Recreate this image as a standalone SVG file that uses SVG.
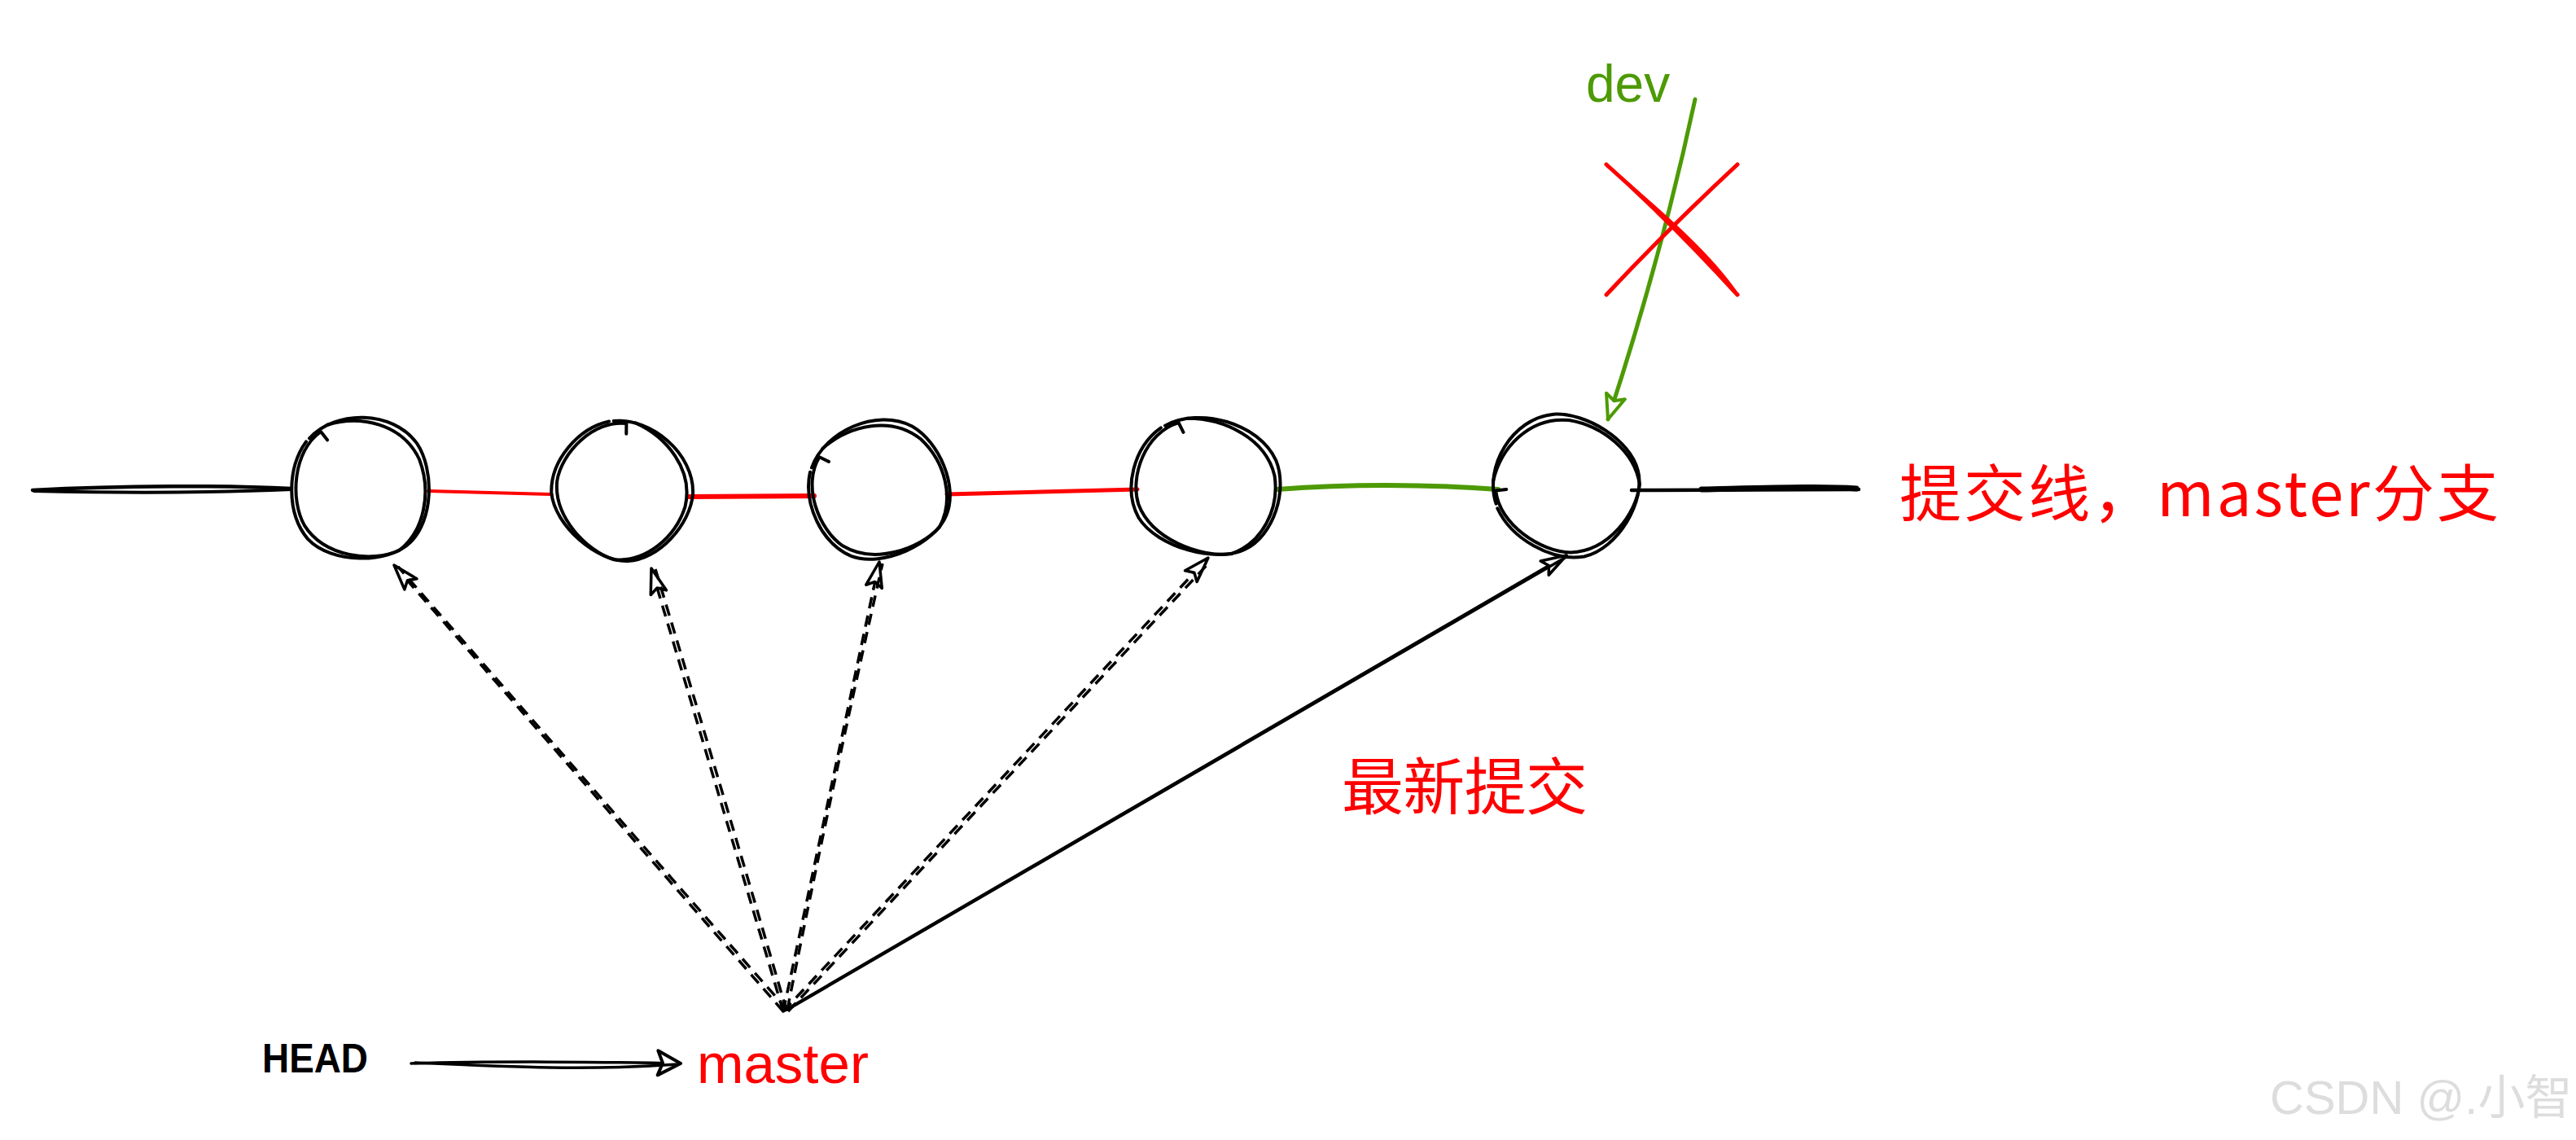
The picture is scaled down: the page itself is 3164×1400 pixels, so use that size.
<svg xmlns="http://www.w3.org/2000/svg" xmlns:xlink="http://www.w3.org/1999/xlink" width="3164" height="1400" viewBox="0 0 3164 1400">
<style>
.sk{fill:none;stroke:#000;stroke-width:4;stroke-linecap:round;stroke-linejoin:round;vector-effect:non-scaling-stroke}
.ln{fill:none;stroke-linecap:round}
.dash{fill:none;stroke:#000;stroke-width:3.5;stroke-dasharray:14 9;stroke-linecap:butt}
.sol{fill:none;stroke:#000;stroke-width:3.5;stroke-linecap:round}
.lat{font-family:"Liberation Sans","Noto Sans",sans-serif}
.cjk{font-family:"Noto Sans CJK SC","Noto Sans",sans-serif}
</style>
<defs>
<marker id="ah" markerUnits="userSpaceOnUse" orient="auto" overflow="visible" refX="0" refY="0" markerWidth="1" markerHeight="1">
<path d="M0,0 L-31,-10 L-25,0 L-31,10 Z" fill="#fff" stroke="#000" stroke-width="3.5" stroke-linejoin="round" stroke-dasharray="none"/>
</marker>
<marker id="ahh" markerUnits="userSpaceOnUse" orient="auto" overflow="visible" refX="0" refY="0" markerWidth="1" markerHeight="1">
<path d="M0,0 L-28,-15 L-22,0 L-28,15 Z" fill="#fff" stroke="#000" stroke-width="4" stroke-linejoin="round"/>
</marker>
<marker id="ahg" markerUnits="userSpaceOnUse" orient="auto" overflow="visible" refX="0" refY="0" markerWidth="1" markerHeight="1">
<path d="M0,0 L-30,-12 L-24,0 L-30,12 Z" fill="#fff" stroke="#4d9a05" stroke-width="4" stroke-linejoin="round"/>
</marker>
<g id="skc">
<path class="sk" d="M -62,-58 C -30,-92 40,-92 70,-52 C 92,-20 90,40 62,66 C 35,92 -35,92 -64,62 C -90,32 -90,-22 -66,-54"/>
<path class="sk" d="M -40,-74 C 0,-86 52,-76 73,-33 C 88,5 80,52 48,76 C 15,90 -43,84 -68,46 C -86,15 -82,-43 -48,-66 L -40,-56"/>
</g>
</defs>
<rect width="3164" height="1400" fill="#fff"/>

<g id="connectors">
<g id="commit-line">
<path class="ln" stroke="#000" stroke-width="4.5" d="M40,602 C150,596 280,596 358,600"/>
<path class="ln" stroke="#000" stroke-width="4" d="M42,603 C170,606 290,604 358,601"/>
<path class="ln" stroke="#ff0000" stroke-width="4" d="M526,603 L676,607"/>
<path class="ln" stroke="#ff0000" stroke-width="6" d="M846,610 L1000,609"/>
<path class="ln" stroke="#ff0000" stroke-width="5" d="M1163,607 L1397,601"/>
<path class="ln" stroke="#4d9a05" stroke-width="6" d="M1569,601 Q1700,591 1840,601"/>
<path class="ln" stroke="#000" stroke-width="4.5" d="M2004,602 L2283,601"/>
<path class="ln" stroke="#000" stroke-width="7" d="M2090,601 C2180,599 2240,597 2280,600"/>
</g>
<g id="head-to-master">
<path class="sol" stroke-width="4" d="M505,1306 C600,1303 750,1304 836,1306" marker-end="url(#ahh)"/>
<path class="sol" stroke-width="4" d="M510,1305 C620,1310 720,1315 832,1307"/>
</g>
<g id="master-arrows">
<path class="dash" d="M962,1242 L484,694" marker-end="url(#ah)"/>
<path class="dash" d="M967,1240 Q722,962 489,696"/>
<path class="dash" d="M962,1242 L800,698" marker-end="url(#ah)"/>
<path class="dash" d="M966,1241 Q887,970 805,699"/>
<path class="dash" d="M962,1242 L1080,690" marker-end="url(#ah)"/>
<path class="dash" d="M967,1240 Q1022,965 1084,692"/>
<path class="dash" d="M962,1242 L1484,685" marker-end="url(#ah)"/>
<path class="dash" d="M968,1242 Q1227,966 1487,689"/>
<path class="sol" d="M962,1242 L1924,682" marker-end="url(#ah)"/>
<path class="sol" d="M967,1240 Q1450,958 1922,685"/>
</g>
<g id="dev-arrow">
<path class="ln" stroke="#4d9a05" stroke-width="5" d="M2082,122 Q2040,318 1975,515" marker-end="url(#ahg)"/>
</g>
<g id="cross">
<path class="ln" stroke="#ff0000" stroke-width="5" d="M1973,202 Q2052,272 2134,362"/>
<path class="ln" stroke="#ff0000" stroke-width="4" d="M1975,204 C2045,265 2100,312 2134,362"/>
<path class="ln" stroke="#ff0000" stroke-width="5" d="M2134,202 Q2050,280 1973,362"/>
</g>
</g>

<g id="c1"><use xlink:href="#skc" href="#skc" transform="translate(442,598) scale(1.0,1.03)"/></g>
<g id="c2"><use xlink:href="#skc" href="#skc" transform="translate(765,600) rotate(40) scale(1.0,0.97)"/></g>
<g id="c3"><use xlink:href="#skc" href="#skc" transform="translate(1078,600) rotate(-25) scale(1.01,0.99)"/></g>
<g id="c4"><use xlink:href="#skc" href="#skc" transform="translate(1481,595) rotate(15) scale(1.08,0.98)"/></g>
<g id="c5"><use xlink:href="#skc" href="#skc" transform="translate(1921,596) rotate(-60) scale(0.99,1.05)"/></g>

<g id="labels">
<text class="lat" x="1948" y="125" font-size="64" fill="#4d9a05">dev</text>
<text class="cjk" x="2333" y="634" font-size="76" fill="#ff0000" textLength="736" lengthAdjust="spacing">提交线，master分支</text>
<text class="cjk" x="1648" y="994" font-size="76" fill="#ff0000" textLength="302" lengthAdjust="spacing">最新提交</text>
<text class="lat" x="322" y="1317" font-size="50" font-weight="bold" fill="#000" textLength="130" lengthAdjust="spacingAndGlyphs">HEAD</text>
<text class="lat" x="856" y="1330" font-size="69" fill="#ff0000">master</text>
<text class="lat" x="2788" y="1368" font-size="58" fill="#dddddd" style="font-family:'Liberation Sans','Noto Sans CJK SC',sans-serif">CSDN @.小智</text>
</g>
</svg>
